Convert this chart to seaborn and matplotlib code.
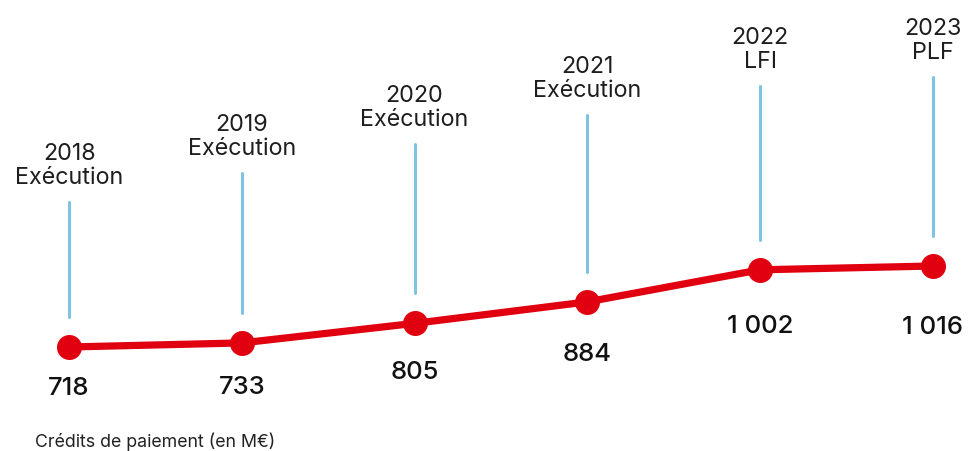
import matplotlib.pyplot as plt
import seaborn as sns
import pandas as pd

sns.set_style("white")
plt.rcParams['font.family'] = ['Inter', 'DejaVu Sans']

years = [2018, 2019, 2020, 2021, 2022, 2023]
stages = ['Exécution', 'Exécution', 'Exécution', 'Exécution', 'LFI', 'PLF']
credits = [718, 733, 805, 884, 1002, 1016]

red = '#E1000F'
blue = '#7FC3E3'

df = pd.DataFrame({'year': years, 'credits': credits})

fig = plt.figure(figsize=(9.69, 4.52), dpi=100)
ax = fig.add_axes([0, 0, 1, 1])

sns.lineplot(data=df, x='year', y='credits', color=red, linewidth=5.2,
             marker='o', markersize=18, markeredgewidth=0, ax=ax,
             solid_capstyle='round')

ax.set_xlim(2017.60, 2023.21)
ax.set_ylim(335.4, 1998.3)
ax.axis('off')

px = 72 / 100  # points per pixel at dpi 100
for i, (yr, st, v) in enumerate(zip(years, stages, credits)):
    # light blue stem from just above the point up to the label
    top_px = max(203 - 29 * i, 78)
    bot_off = 30
    pt = ax.transData.transform((yr, v))
    top_off = (452 - top_px) - pt[1]
    fig.add_artist(plt.Line2D([pt[0] / 969, pt[0] / 969],
                              [(pt[1] + bot_off) / 452, (452 - top_px) / 452],
                              color=blue, linewidth=2.2))
    ax.annotate(f'{yr}\n{st}', xy=(yr, v), xytext=(0, (top_off + 14) * px),
                textcoords='offset points', ha='center', va='bottom',
                fontsize=16.8, color='#1e1e1e', linespacing=1.1)
    label = f'{v:,}'.replace(',', ' ')
    ax.annotate(label, xy=(yr, v), xytext=(0, -(40 + 4 * i) * px),
                textcoords='offset points', ha='center', va='center',
                fontsize=18.5, fontweight='medium', color='#111111')

fig.text(35 / 969, 1 - 442 / 452, 'Crédits de paiement (en M€)', fontsize=12.8,
         color='#222222', ha='left', va='center')

plt.savefig('out.png', dpi=100)
plt.close()
